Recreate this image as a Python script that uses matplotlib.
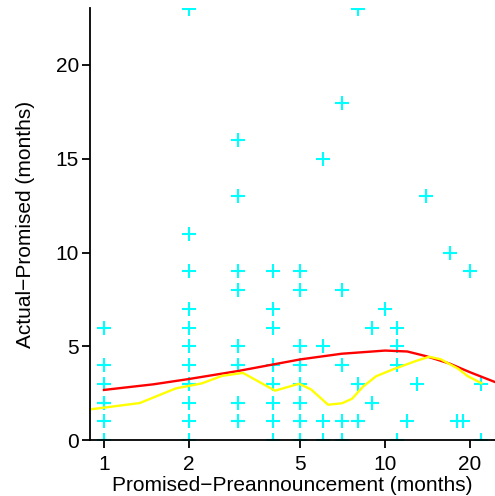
import matplotlib
matplotlib.use("Agg")
import matplotlib.pyplot as plt
import numpy as np

plt.rcParams['font.family'] = ['Liberation Sans', 'DejaVu Sans']

# scatter data (promised-preannouncement, actual-promised)
x_vals = ([1]*7 + [2]*12 + [3]*8 + [4]*9 + [5]*8 + [6]*4 + [7]*5 + [8]*3 +
          [9]*2 + [10] + [11]*4 + [12] + [13] + [14] + [17] + [18] + [19] + [20] + [22]*2)
y_vals = ([0, 1, 2, 2, 3, 4, 6] +
          [0, 1, 2, 3, 3, 4, 5, 6, 7, 9, 11, 23] +
          [1, 2, 4, 5, 8, 9, 13, 16] +
          [0, 1, 2, 3, 3, 4, 6, 7, 9] +
          [0, 1, 2, 3, 4, 5, 8, 9] +
          [0, 1, 5, 15] +
          [0, 1, 4, 8, 18] +
          [1, 3, 23] +
          [2, 6] +
          [7] +
          [0, 4, 5, 6] +
          [1] + [3] + [13] + [10] + [1] + [1] + [9] +
          [0, 3])

# red smooth curve
red_x = [1, 1.5, 2, 3, 4, 5, 7, 10, 12, 14, 17, 20, 25]
red_y = [2.67, 2.97, 3.25, 3.68, 4.03, 4.3, 4.6, 4.77, 4.72, 4.47, 4.07, 3.62, 3.05]

# yellow smooth curve
yel_x = [0.88, 1.34, 1.8, 2.23, 2.63, 3.12, 4.06, 4.94, 5.45, 6.27, 7.03, 7.63,
         8.35, 9.29, 10.6, 12.79, 14.34, 15.8, 18.2, 19.7, 22]
yel_y = [1.62, 1.97, 2.75, 3.02, 3.42, 3.58, 2.63, 3.0, 2.7, 1.88, 1.96, 2.2,
         2.85, 3.4, 3.75, 4.2, 4.44, 4.3, 3.8, 3.4, 3.03]

x_ticks = [1, 2, 5, 10, 20]
y_ticks = [0, 5, 10, 15, 20]

fig = plt.figure(figsize=(4.95, 4.96), dpi=100)
ax = fig.add_axes([90/495, 56/496, 1 - 90/495, 432/496])

ax.plot(x_vals, y_vals, linestyle='none', marker='+', color='#00FFFF',
        markersize=9.5, markeredgewidth=1.5)
ax.plot(red_x, red_y, color='#FF0000', lw=1.7)
ax.plot(yel_x, yel_y, color='#FFFF00', lw=1.7)

ax.set_xscale('log')
ax.set_xlim(0.892, 24.6)
ax.set_ylim(0, 23.04)
ax.set_xticks(x_ticks)
ax.set_xticklabels([str(t) for t in x_ticks])
ax.xaxis.set_minor_locator(matplotlib.ticker.NullLocator())
ax.set_yticks(y_ticks)

for s in ['top', 'right']:
    ax.spines[s].set_visible(False)
for s in ['left', 'bottom']:
    ax.spines[s].set_linewidth(1.3)
    ax.spines[s].set_color('black')

ax.tick_params(direction='out', length=6, width=1.3, labelsize=15)
ax.tick_params(axis='x', pad=5)
ax.tick_params(axis='y', pad=2)
ax.set_xlabel('Promised\u2212Preannouncement (months)', fontsize=15, labelpad=1)
ax.set_ylabel('Actual\u2212Promised (months)', fontsize=15, labelpad=15)

fig.savefig('out.png', dpi=100)
